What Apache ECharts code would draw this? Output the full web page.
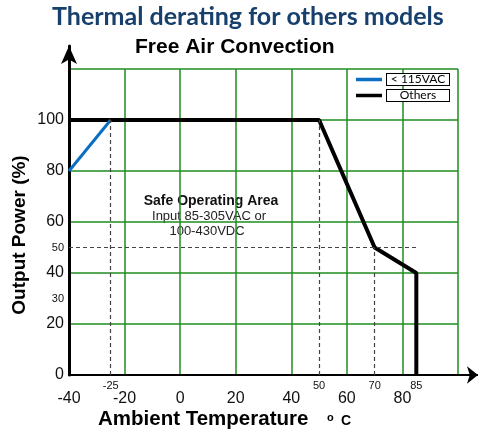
<!DOCTYPE html>
<html>
<head>
<meta charset="utf-8">
<script src="https://cdn.jsdelivr.net/npm/echarts@6/dist/echarts.min.js"></script>
<style>
  html, body { margin: 0; padding: 0; background: #fff; }
  #chart { width: 478px; height: 434px; }
</style>
</head>
<body>
<div id="chart"></div>
<script>
// ---- data ----
const chartTitle = 'Thermal derating for others models';
const chartSubtitle = 'Free Air Convection';
const xTitle = 'Ambient Temperature';
const yTitle = 'Output Power (%)';
const seriesNames = ['< 115VAC', 'Others'];
const lowVacCurve = [[-40, 80], [-25, 100]];
const othersCurve = [[-40, 100], [50, 100], [70, 50], [85, 40], [85, 0]];
const xMainTicks = [-40, -20, 0, 20, 40, 60, 80];
const xMarkTicks = [-25, 50, 70, 85];
const yMainTicks = [0, 20, 40, 60, 80, 100];
const yMarkTicks = [30, 50];
// dashed guides: vertical [x, fromY, toY], horizontal [y, fromX, toX]
const guideVertical = [[-25, 0, 100], [50, 0, 100], [70, 0, 50]];
const guideHorizontal = [[50, -40, 85]];
const areaLines = ['Safe Operating Area', 'Input 85-305VAC or', '100-430VDC'];

const green = '#1e8c1e';
const chart = echarts.init(document.getElementById('chart'), null, { renderer: 'canvas' });

const markData = [];
guideVertical.forEach(g => markData.push([{ coord: [g[0], g[1]] }, { coord: [g[0], g[2]] }]));
guideHorizontal.forEach(g => markData.push([{ coord: [g[1], g[0]] }, { coord: [g[2], g[0]] }]));

const option = {
  backgroundColor: '#fff',
  animation: false,
  title: [
    { text: chartTitle, left: 52, top: 4, padding: 0,
      textStyle: { fontFamily: 'Lato', fontWeight: 'bold', fontSize: 25, color: '#17406d' } },
    { text: chartSubtitle, left: 135, top: 37, padding: 0,
      textStyle: { fontFamily: 'Liberation Sans', fontWeight: 'bold', fontSize: 21, color: '#000' } }
  ],
  legend: {
    orient: 'vertical', left: 356, top: 73, itemGap: 3, padding: 0,
    icon: 'rect', itemWidth: 26, itemHeight: 3.5,
    data: seriesNames,
    formatter: name => '{t|' + name + '}',
    textStyle: {
      fontFamily: 'Lato', fontSize: 12, color: '#000',
      borderColor: '#000', borderWidth: 1, backgroundColor: '#fff',
      padding: [0, 2], lineHeight: 11,
      rich: { t: { width: 58, align: 'center', fontFamily: 'Lato', fontSize: 12, lineHeight: 11, color: '#000' } }
    }
  },
  grid: [
    { left: 69, right: 20, top: 69, bottom: 59 },
    { left: 69, right: 0, top: 46, bottom: 59 }
  ],
  xAxis: [
    { type: 'value', gridIndex: 0, min: -40, max: 100, interval: 20, position: 'bottom',
      axisLine: { show: false }, axisTick: { show: false },
      splitLine: { show: true, lineStyle: { color: green, width: 1.5 } },
      axisLabel: { fontFamily: 'Liberation Sans', fontSize: 16, color: '#111', margin: 16,
        formatter: v => xMainTicks.includes(v) ? String(v) : '' } },
    { type: 'value', gridIndex: 0, min: -40, max: 100, interval: 5, position: 'bottom', offset: 0,
      axisLine: { show: false }, axisTick: { show: false }, splitLine: { show: false },
      axisLabel: { fontFamily: 'Liberation Sans', fontSize: 11, color: '#111', margin: 5,
        showMinLabel: true, showMaxLabel: true,
        formatter: v => xMarkTicks.includes(v) ? String(v) : '' } },
    { type: 'value', gridIndex: 1, min: 0, max: 1,
      axisLine: { show: true, symbol: ['none', 'arrow'], symbolSize: [13, 11],
        lineStyle: { color: '#000', width: 2 } },
      axisTick: { show: false }, axisLabel: { show: false }, splitLine: { show: false } }
  ],
  yAxis: [
    { type: 'value', gridIndex: 0, min: 0, max: 120, interval: 20, position: 'left',
      axisLine: { show: false }, axisTick: { show: false },
      splitLine: { show: true, lineStyle: { color: green, width: 1.5 } },
      axisLabel: { fontFamily: 'Liberation Sans', fontSize: 16, color: '#111', margin: 5,
        formatter: v => yMainTicks.includes(v) ? String(v) : '' } },
    { type: 'value', gridIndex: 0, min: 0, max: 120, interval: 10, position: 'left', offset: 0,
      axisLine: { show: false }, axisTick: { show: false }, splitLine: { show: false },
      axisLabel: { fontFamily: 'Liberation Sans', fontSize: 11, color: '#111', margin: 5,
        formatter: v => yMarkTicks.includes(v) ? String(v) : '' } },
    { type: 'value', gridIndex: 1, min: 0, max: 1,
      axisLine: { show: true, symbol: ['none', 'arrow'], symbolSize: [12, 18],
        lineStyle: { color: '#000', width: 3 } },
      axisTick: { show: false }, axisLabel: { show: false }, splitLine: { show: false } }
  ],
  series: [
    { type: 'line', name: 'guides', xAxisIndex: 0, yAxisIndex: 0, data: [], silent: true,
      markLine: { silent: true, symbol: ['none', 'none'], label: { show: false },
        lineStyle: { color: '#444', width: 1.2, type: [4, 3] }, data: markData } },
    { type: 'line', name: seriesNames[1], xAxisIndex: 0, yAxisIndex: 0, data: othersCurve,
      symbol: 'none', clip: false, color: '#000', lineStyle: { color: '#000', width: 4 } },
    { type: 'line', name: seriesNames[0], xAxisIndex: 0, yAxisIndex: 0, data: lowVacCurve,
      symbol: 'none', clip: false, color: '#0a6fc2', lineStyle: { color: '#0a6fc2', width: 3 } }
  ],
  graphic: [
    { type: 'text', left: 98, top: 409,
      style: { text: xTitle, font: 'bold 20.5px "Liberation Sans"', fill: '#000' } },
    { type: 'text', left: 327, top: 412,
      style: { text: 'o', font: 'bold 11px "Liberation Sans"', fill: '#000' } },
    { type: 'text', left: 341, top: 414,
      style: { text: 'C', font: 'bold 14px "Liberation Sans"', fill: '#000' } },
    { type: 'text', x: 20, y: 235, rotation: Math.PI / 2,
      style: { text: yTitle, font: 'bold 19px "Liberation Sans"', fill: '#000',
        align: 'center', verticalAlign: 'middle' } },
    { type: 'text', x: 211, y: 201,
      style: { text: areaLines[0], font: 'bold 14px "Liberation Sans"', fill: '#111',
        align: 'center', verticalAlign: 'middle' } },
    { type: 'text', x: 209, y: 216,
      style: { text: areaLines[1], font: '13px "Liberation Sans"', fill: '#222',
        align: 'center', verticalAlign: 'middle' } },
    { type: 'text', x: 207, y: 231,
      style: { text: areaLines[2], font: '13px "Liberation Sans"', fill: '#222',
        align: 'center', verticalAlign: 'middle' } }
  ]
};
chart.setOption(option);
</script>
</body>
</html>
